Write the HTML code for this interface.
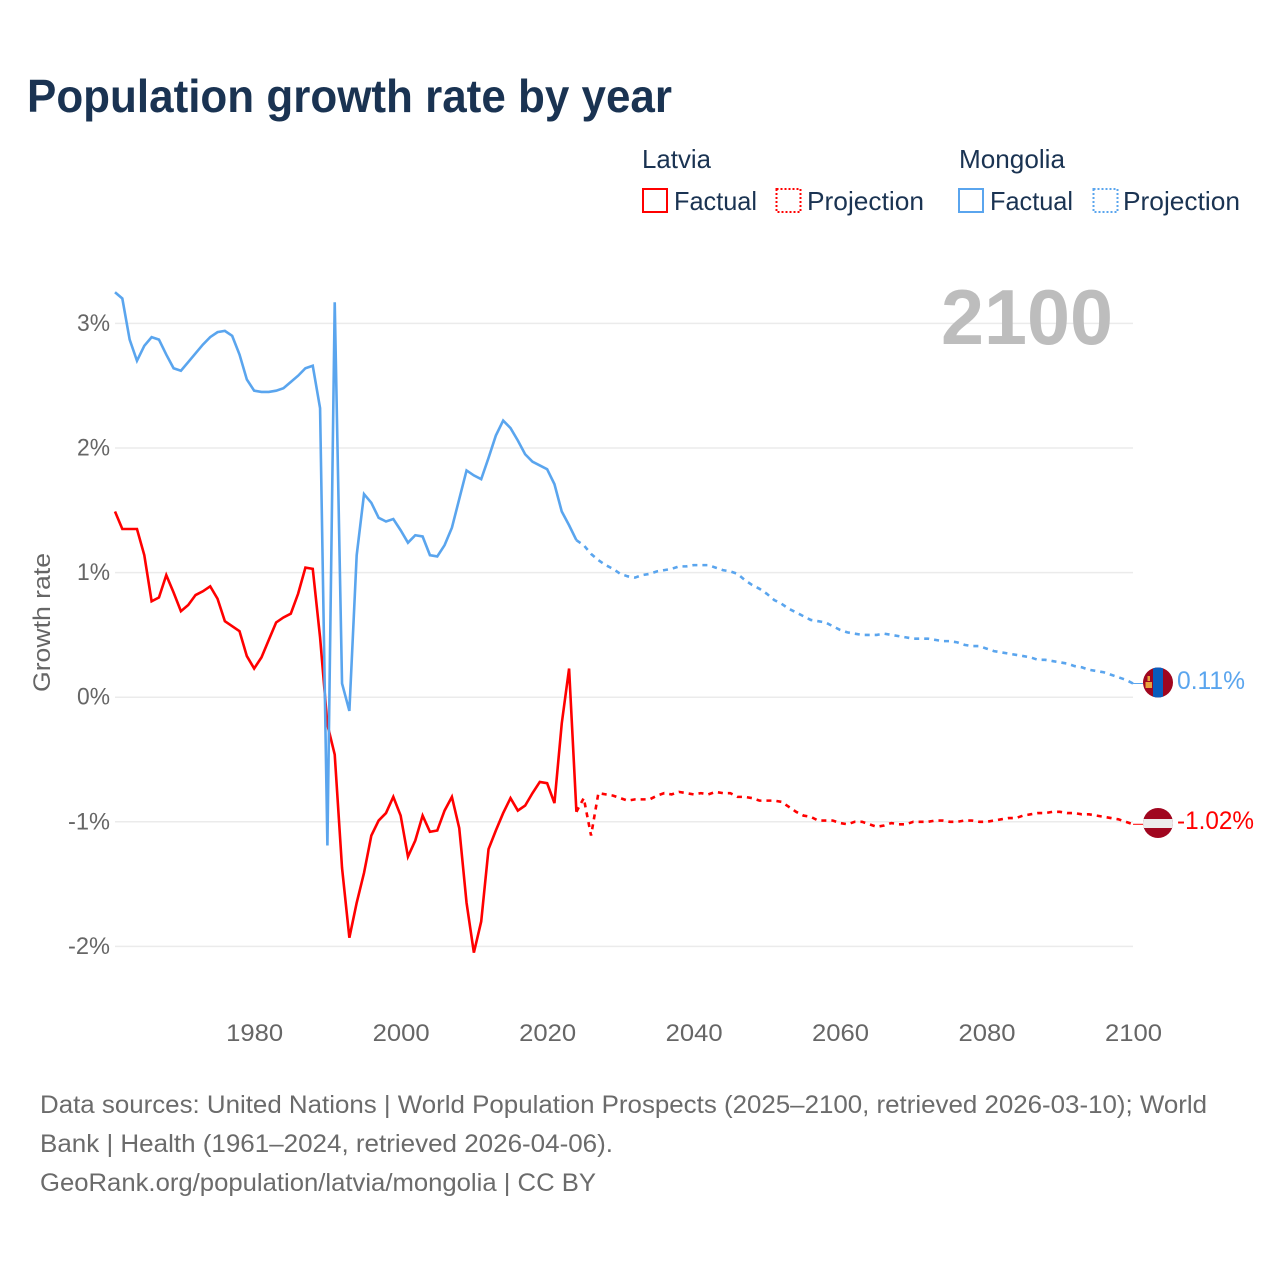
<!DOCTYPE html>
<html lang="en">
<head>
<meta charset="utf-8">
<title>Population growth rate by year</title>
<style>
html,body{margin:0;padding:0;background:#fff}
svg{display:block}
text{font-family:"Liberation Sans",sans-serif}
</style>
</head>
<body>
<svg id="chart" width="1280" height="1280" viewBox="0 0 1280 1280" xmlns="http://www.w3.org/2000/svg">
  <rect width="1280" height="1280" fill="#fff"/>
  <text x="27" y="112" font-size="46" font-weight="700" fill="#1a3352" textLength="645" lengthAdjust="spacingAndGlyphs">Population growth rate by year</text>

  <g font-size="26" fill="#1a3352">
    <text x="642" y="168" textLength="69" lengthAdjust="spacingAndGlyphs">Latvia</text>
    <text x="959" y="168" textLength="106" lengthAdjust="spacingAndGlyphs">Mongolia</text>
    <rect x="643" y="189" width="24" height="23" fill="none" stroke="#ff0000" stroke-width="2"/>
    <text x="674" y="210" textLength="83" lengthAdjust="spacingAndGlyphs">Factual</text>
    <rect x="776.500" y="189" width="24" height="23" fill="none" stroke="#ff0000" stroke-width="2" stroke-dasharray="2 2"/>
    <text x="807" y="210" textLength="117" lengthAdjust="spacingAndGlyphs">Projection</text>
    <rect x="959" y="189" width="24" height="23" fill="none" stroke="#5aa5ee" stroke-width="2"/>
    <text x="990" y="210" textLength="83" lengthAdjust="spacingAndGlyphs">Factual</text>
    <rect x="1093.500" y="189" width="24" height="23" fill="none" stroke="#5aa5ee" stroke-width="2" stroke-dasharray="2 2"/>
    <text x="1123" y="210" textLength="117" lengthAdjust="spacingAndGlyphs">Projection</text>
  </g>

  <g id="grid"></g>
  <g id="yticks"></g>
  <g id="xticks"></g>

  <text transform="translate(50,692) rotate(-90)" font-size="24" fill="#666" textLength="139" lengthAdjust="spacingAndGlyphs">Growth rate</text>
  <text x="941" y="344" font-size="78" font-weight="700" fill="#bdbdbd" textLength="172" lengthAdjust="spacingAndGlyphs">2100</text>

  <g id="series"></g>

  <defs>
    <clipPath id="flag-clip-mn"><circle cx="1158" cy="682.500" r="15"/></clipPath>
    <clipPath id="flag-clip-lv"><circle cx="1158" cy="823" r="15"/></clipPath>
  </defs>
  <g clip-path="url(#flag-clip-mn)">
    <rect x="1143" y="667" width="30" height="31" fill="#a0061f"/>
    <rect x="1153" y="667" width="10" height="31" fill="#0a5cbc"/>
    <rect x="1145.500" y="682" width="6.500" height="6" fill="#e8a33d"/>
    <rect x="1147.500" y="676" width="2.500" height="5" fill="#e8a33d"/>
  </g>
  <g clip-path="url(#flag-clip-lv)">
    <rect x="1143" y="808" width="30" height="30" fill="#a0061f"/>
    <rect x="1143" y="819" width="30" height="9" fill="#ececec"/>
  </g>
  <text x="1177" y="689" font-size="25" fill="#5aa5ee" textLength="68" lengthAdjust="spacingAndGlyphs">0.11%</text>
  <text x="1177" y="829" font-size="25" fill="#ff0000" textLength="77" lengthAdjust="spacingAndGlyphs">-1.02%</text>

  <g font-size="25" fill="#6b6b6b">
    <text x="40" y="1113" textLength="1167" lengthAdjust="spacingAndGlyphs">Data sources: United Nations | World Population Prospects (2025–2100, retrieved 2026-03-10); World</text>
    <text x="40" y="1152" textLength="573" lengthAdjust="spacingAndGlyphs">Bank | Health (1961–2024, retrieved 2026-04-06).</text>
    <text x="40" y="1191" textLength="556" lengthAdjust="spacingAndGlyphs">GeoRank.org/population/latvia/mongolia | CC BY</text>
  </g>
</svg>
<script>
const yTickValues = [3, 2, 1, 0, -1, -2];
const yTickLabels = ["3%", "2%", "1%", "0%", "-1%", "-2%"];
const xTickYears = [1980, 2000, 2020, 2040, 2060, 2080, 2100];
const factualStartYear = 1961;
const projectionStartYear = 2024;

const latviaFactual = [
  1.49, 1.35, 1.35, 1.35, 1.14, 0.77, 0.80, 0.98, 0.84, 0.69,
  0.74, 0.82, 0.85, 0.89, 0.79, 0.61, 0.57, 0.53, 0.33, 0.23,
  0.32, 0.46, 0.60, 0.64, 0.67, 0.83, 1.04, 1.03, 0.48,
  -0.22, -0.46, -1.37, -1.93, -1.65, -1.41, -1.11, -0.99, -0.93, -0.80,
  -0.95, -1.28, -1.15, -0.95, -1.08, -1.07, -0.91, -0.80, -1.05, -1.65,
  -2.05, -1.80, -1.22, -1.07, -0.93, -0.81, -0.91, -0.87, -0.77, -0.68,
  -0.69, -0.85, -0.21, 0.23, -0.92
];
const latviaProjection = [
  -0.92, -0.81, -1.11,
  -0.77, -0.78, -0.79, -0.81, -0.83, -0.82, -0.82, -0.82, -0.79, -0.77,
  -0.78, -0.76, -0.77, -0.78, -0.77, -0.78, -0.76, -0.77, -0.77, -0.80,
  -0.80, -0.81, -0.83, -0.83, -0.83, -0.84, -0.88, -0.92, -0.95, -0.96,
  -0.99, -0.99, -0.99, -1.01, -1.02, -1.00, -1.00, -1.02, -1.04, -1.03,
  -1.01, -1.02, -1.02, -1.00, -1.00, -1.00, -0.99, -0.99, -1.00, -1.00,
  -0.99, -0.99, -1.00, -1.00, -0.99, -0.98, -0.97, -0.97, -0.95, -0.94,
  -0.93, -0.93, -0.92, -0.92, -0.93, -0.93, -0.94, -0.94, -0.95, -0.96,
  -0.97, -0.98, -1.00, -1.02
];
const mongoliaFactual = [
  3.25, 3.20, 2.87, 2.70, 2.82, 2.89, 2.87, 2.75, 2.64, 2.62,
  2.69, 2.76, 2.83, 2.89, 2.93, 2.94, 2.90, 2.75, 2.55, 2.46,
  2.45, 2.45, 2.46, 2.48, 2.53, 2.58, 2.64, 2.66, 2.32,
  -1.19, 3.17, 0.11, -0.11, 1.14, 1.63, 1.56, 1.44, 1.41, 1.43,
  1.34, 1.24, 1.30, 1.29, 1.14, 1.13, 1.22, 1.36, 1.59, 1.82,
  1.78, 1.75, 1.92, 2.10, 2.22, 2.16, 2.06, 1.95, 1.89, 1.86,
  1.83, 1.71, 1.49, 1.38, 1.26
];
const mongoliaProjection = [
  1.26, 1.22, 1.15, 1.10, 1.06, 1.03, 0.99, 0.97, 0.96, 0.98, 0.99,
  1.01, 1.02, 1.03, 1.05, 1.05, 1.06, 1.06, 1.06, 1.04, 1.02,
  1.01, 0.99, 0.94, 0.90, 0.87, 0.83, 0.78, 0.75, 0.71, 0.68,
  0.65, 0.62, 0.61, 0.60, 0.57, 0.54, 0.52, 0.51, 0.50, 0.50,
  0.50, 0.51, 0.50, 0.49, 0.48, 0.47, 0.47, 0.47, 0.46, 0.45,
  0.45, 0.44, 0.42, 0.41, 0.41, 0.39, 0.37, 0.36, 0.35, 0.34,
  0.33, 0.32, 0.30, 0.30, 0.29, 0.28, 0.27, 0.25, 0.24, 0.22,
  0.21, 0.20, 0.18, 0.16, 0.14, 0.11
];

const SVG_NS = "http://www.w3.org/2000/svg";
const RED = "#ff0000";
const BLUE = "#5aa5ee";
const LINE_WIDTH = 2.6;
const xScale = function (year) { return 115 + (year - 1961) * 7.324; };
const yScale = function (value) { return 697.2 - value * 124.6; };

function makePath(values, startYear) {
  return values.map(function (v, i) {
    return (i === 0 ? "M" : "L") + xScale(startYear + i).toFixed(2) + " " + yScale(v).toFixed(2);
  }).join(" ");
}

const gridGroup = document.getElementById("grid");
const yTickGroup = document.getElementById("yticks");
yTickValues.forEach(function (v, i) {
  const line = document.createElementNS(SVG_NS, "line");
  
  
  line.setAttribute("x1", 115);
  line.setAttribute("x2", 1133);
  line.setAttribute("y1", yScale(v));
  line.setAttribute("y2", yScale(v));
  line.setAttribute("stroke", "#ebebeb");
  line.setAttribute("stroke-width", 1.5);
  gridGroup.appendChild(line);

  const label = document.createElementNS(SVG_NS, "text");
  
  
  label.setAttribute("x", yTickLabels[i].length > 2 ? 68 : 77);
  label.setAttribute("y", yScale(v) + 7.5);
  label.setAttribute("font-size", 24);
  label.setAttribute("fill", "#666");
  label.setAttribute("textLength", yTickLabels[i].length > 2 ? 42 : 33);
  label.setAttribute("lengthAdjust", "spacingAndGlyphs");
  label.textContent = yTickLabels[i];
  yTickGroup.appendChild(label);
});

const xTickGroup = document.getElementById("xticks");
xTickYears.forEach(function (year) {
  const label = document.createElementNS(SVG_NS, "text");
  
  
  label.setAttribute("x", xScale(year) - 28);
  label.setAttribute("y", 1041);
  label.setAttribute("font-size", 24);
  label.setAttribute("fill", "#666");
  label.setAttribute("textLength", 57);
  label.setAttribute("lengthAdjust", "spacingAndGlyphs");
  label.textContent = String(year);
  xTickGroup.appendChild(label);
});

const seriesGroup = document.getElementById("series");

const latviaFactualLine = document.createElementNS(SVG_NS, "path");


latviaFactualLine.setAttribute("d", makePath(latviaFactual, factualStartYear));
latviaFactualLine.setAttribute("fill", "none");
latviaFactualLine.setAttribute("stroke", RED);
latviaFactualLine.setAttribute("stroke-width", LINE_WIDTH);
seriesGroup.appendChild(latviaFactualLine);

const latviaProjectionLine = document.createElementNS(SVG_NS, "path");


latviaProjectionLine.setAttribute("d", makePath(latviaProjection, projectionStartYear));
latviaProjectionLine.setAttribute("fill", "none");
latviaProjectionLine.setAttribute("stroke", RED);
latviaProjectionLine.setAttribute("stroke-width", LINE_WIDTH);
latviaProjectionLine.setAttribute("stroke-dasharray", "5 5");
seriesGroup.appendChild(latviaProjectionLine);

const mongoliaFactualLine = document.createElementNS(SVG_NS, "path");


mongoliaFactualLine.setAttribute("d", makePath(mongoliaFactual, factualStartYear));
mongoliaFactualLine.setAttribute("fill", "none");
mongoliaFactualLine.setAttribute("stroke", BLUE);
mongoliaFactualLine.setAttribute("stroke-width", LINE_WIDTH);
seriesGroup.appendChild(mongoliaFactualLine);

const mongoliaProjectionLine = document.createElementNS(SVG_NS, "path");


mongoliaProjectionLine.setAttribute("d", makePath(mongoliaProjection, projectionStartYear));
mongoliaProjectionLine.setAttribute("fill", "none");
mongoliaProjectionLine.setAttribute("stroke", BLUE);
mongoliaProjectionLine.setAttribute("stroke-width", LINE_WIDTH);
mongoliaProjectionLine.setAttribute("stroke-dasharray", "5 5");
seriesGroup.appendChild(mongoliaProjectionLine);

const latviaEnd = latviaProjection[latviaProjection.length - 1];
const mongoliaEnd = mongoliaProjection[mongoliaProjection.length - 1];

const latviaConnector = document.createElementNS(SVG_NS, "line");


latviaConnector.setAttribute("x1", xScale(2100));
latviaConnector.setAttribute("x2", xScale(2100) + 10);
latviaConnector.setAttribute("y1", yScale(latviaEnd));
latviaConnector.setAttribute("y2", yScale(latviaEnd));
latviaConnector.setAttribute("stroke", RED);
seriesGroup.appendChild(latviaConnector);

const mongoliaConnector = document.createElementNS(SVG_NS, "line");


mongoliaConnector.setAttribute("x1", xScale(2100));
mongoliaConnector.setAttribute("x2", xScale(2100) + 10);
mongoliaConnector.setAttribute("y1", yScale(mongoliaEnd));
mongoliaConnector.setAttribute("y2", yScale(mongoliaEnd));
mongoliaConnector.setAttribute("stroke", BLUE);
seriesGroup.appendChild(mongoliaConnector);
</script>
</body>
</html>
